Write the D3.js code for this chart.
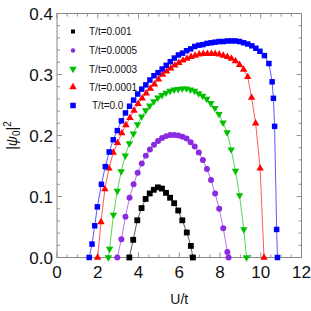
<!DOCTYPE html>
<html>
<head>
<meta charset="utf-8">
<script src="https://cdn.jsdelivr.net/npm/d3@7.9.0/dist/d3.min.js"></script>
<style>
  html, body { margin: 0; padding: 0; background: #fff; }
  svg { display: block; font-family: "Liberation Sans", Arial, sans-serif; }
</style>
</head>
<body>
<svg id="chart" width="311" height="311"></svg>
<script>
// series data: [U/t, |psi0|^2]
const t0001 = [[3.55,0],[3.74,0.029],[3.94,0.061],[4.15,0.081],[4.35,0.096],[4.55,0.105],[4.75,0.111],[4.95,0.115],[5.15,0.113],[5.35,0.106],[5.55,0.098],[5.75,0.089],[5.95,0.077],[6.15,0.061],[6.37,0.041],[6.57,0.019],[6.67,0]];
const t00005 = [[2.96,0],[3.16,0.030],[3.36,0.067],[3.56,0.098],[3.76,0.120],[3.96,0.139],[4.16,0.154],[4.36,0.167],[4.56,0.177],[4.76,0.185],[4.96,0.191],[5.16,0.196],[5.36,0.199],[5.56,0.201],[5.76,0.201],[5.96,0.200],[6.16,0.198],[6.36,0.195],[6.56,0.189],[6.76,0.182],[6.96,0.172],[7.16,0.160],[7.36,0.145],[7.56,0.127],[7.76,0.105],[7.96,0.080],[8.16,0.048],[8.36,0.009],[8.42,0]];
const t00003 = [[2.52,0],[2.58,0.014],[2.77,0.070],[2.96,0.109],[3.15,0.141],[3.35,0.167],[3.55,0.187],[3.75,0.203],[3.95,0.218],[4.15,0.231],[4.35,0.241],[4.55,0.249],[4.75,0.256],[4.95,0.262],[5.15,0.266],[5.35,0.270],[5.55,0.273],[5.75,0.275],[5.95,0.276],[6.15,0.277],[6.35,0.277],[6.55,0.275],[6.75,0.273],[6.95,0.269],[7.15,0.265],[7.35,0.260],[7.55,0.253],[7.75,0.245],[7.95,0.235],[8.15,0.221],[8.35,0.205],[8.55,0.177],[8.76,0.142],[8.96,0.102],[9.17,0.046],[9.3,0]];
const t00001 = [[1.99,0],[2.16,0.058],[2.35,0.112],[2.55,0.146],[2.76,0.172],[2.97,0.188],[3.18,0.204],[3.38,0.217],[3.58,0.229],[3.78,0.241],[3.98,0.252],[4.18,0.261],[4.38,0.269],[4.58,0.277],[4.78,0.284],[4.98,0.292],[5.18,0.300],[5.38,0.305],[5.58,0.310],[5.78,0.315],[5.98,0.319],[6.18,0.323],[6.38,0.326],[6.58,0.329],[6.78,0.331],[6.98,0.333],[7.18,0.334],[7.38,0.334],[7.58,0.334],[7.76,0.334],[7.96,0.333],[8.16,0.331],[8.36,0.329],[8.56,0.326],[8.76,0.322],[8.96,0.316],[9.16,0.308],[9.36,0.296],[9.55,0.262],[9.75,0.220],[9.97,0.146],[10.16,0]];
const t0 = [[1.58,0],[1.72,0.022],[1.85,0.052],[1.98,0.083],[2.18,0.120],[2.37,0.149],[2.56,0.173],[2.76,0.193],[2.96,0.208],[3.16,0.224],[3.36,0.237],[3.56,0.248],[3.76,0.258],[3.96,0.268],[4.16,0.276],[4.36,0.283],[4.56,0.291],[4.76,0.298],[4.96,0.303],[5.16,0.309],[5.36,0.315],[5.56,0.321],[5.76,0.327],[5.96,0.332],[6.16,0.335],[6.36,0.339],[6.56,0.342],[6.76,0.346],[6.96,0.348],[7.16,0.349],[7.36,0.351],[7.56,0.352],[7.76,0.353],[7.96,0.354],[8.16,0.354],[8.36,0.355],[8.56,0.355],[8.76,0.355],[8.96,0.354],[9.16,0.352],[9.36,0.350],[9.56,0.347],[9.76,0.343],[9.96,0.338],[10.18,0.331],[10.4,0.318],[10.56,0.288],[10.62,0.261],[10.68,0.215],[10.78,0.046],[10.82,0]];

const labels = ['T/t=0.001', 'T/t=0.0005', 'T/t=0.0003', 'T/t=0.0001', 'T/t=0.0'];
const colors = ['#000000', '#8a2be2', '#00c000', '#ff0000', '#0000ff'];
const xTicks = [0, 2, 4, 6, 8, 10, 12];
const yTicks = [0.0, 0.1, 0.2, 0.3, 0.4];

const series = [
  { data: t0001, symbol: d3.symbolSquare, size: 34, rotate: 0 },
  { data: t00005, symbol: d3.symbolCircle, size: 28, rotate: 0 },
  { data: t00003, symbol: d3.symbolTriangle, size: 24, rotate: 180 },
  { data: t00001, symbol: d3.symbolTriangle, size: 24, rotate: 0 },
  { data: t0, symbol: d3.symbolSquare, size: 30, rotate: 0 },
];

const width = 311, height = 311;
const margin = { top: 13.5, right: 9.5, bottom: 53.5, left: 57 };
const w = width - margin.left - margin.right;
const h = height - margin.top - margin.bottom;

const svg = d3.select('#chart');
const g = svg.append('g').attr('transform', `translate(${margin.left},${margin.top})`);

const x = d3.scaleLinear().domain([0, 12]).range([0, w]);
const y = d3.scaleLinear().domain([0, 0.4]).range([h, 0]);

const tickColor = '#777';
const xMinor = d3.range(0, 12.01, 0.5);
const yMinor = d3.range(0, 0.401, 0.02);

// minor ticks, all four sides, pointing inward
const ticks = g.append('g').attr('stroke', tickColor).attr('stroke-width', 0.8);
xMinor.forEach(v => {
  const major = Math.abs(v / 2 - Math.round(v / 2)) < 1e-6;
  const len = major ? 5 : 3;
  ticks.append('line').attr('x1', x(v)).attr('x2', x(v)).attr('y1', h).attr('y2', h - len);
  ticks.append('line').attr('x1', x(v)).attr('x2', x(v)).attr('y1', 0).attr('y2', len);
});
yMinor.forEach(v => {
  const major = Math.abs(v * 10 - Math.round(v * 10)) < 1e-6;
  const len = major ? 5 : 3;
  ticks.append('line').attr('x1', 0).attr('x2', len).attr('y1', y(v)).attr('y2', y(v));
  ticks.append('line').attr('x1', w).attr('x2', w - len).attr('y1', y(v)).attr('y2', y(v));
});

g.append('rect')
  .attr('width', w).attr('height', h)
  .attr('fill', 'none').attr('stroke', '#888').attr('stroke-width', 1);

// tick labels
g.selectAll('.xl').data(xTicks).enter().append('text')
  .attr('x', d => x(d)).attr('y', h + 20)
  .attr('text-anchor', 'middle').attr('font-size', 17).attr('fill', '#111')
  .text(d => d);
g.selectAll('.yl').data(yTicks).enter().append('text')
  .attr('x', -4).attr('y', d => y(d) + 6)
  .attr('text-anchor', 'end').attr('font-size', 17).attr('fill', '#111')
  .text(d => d.toFixed(1));

// axis titles
g.append('text')
  .attr('x', w / 2).attr('y', h + 46)
  .attr('text-anchor', 'middle').attr('font-size', 14).attr('fill', '#111')
  .text('U/t');

const yt = svg.append('text')
  .attr('transform', `translate(17,${margin.top + h / 2}) rotate(-90)`)
  .attr('text-anchor', 'middle').attr('font-size', 14).attr('fill', '#111');
yt.append('tspan').text('|');
yt.append('tspan').attr('font-style', 'italic').text('ψ');
yt.append('tspan').attr('font-size', 10).attr('dy', 3).text('0');
yt.append('tspan').attr('dy', -3).text('|');
yt.append('tspan').attr('font-size', 10).attr('dy', -6).text('2');

// series lines and markers
const line = d3.line().x(d => x(d[0])).y(d => y(d[1]));
series.forEach((s, i) => {
  g.append('path')
    .datum(s.data)
    .attr('d', line)
    .attr('fill', 'none')
    .attr('stroke', colors[i])
    .attr('stroke-opacity', 0.65)
    .attr('stroke-width', 1);
  const sym = d3.symbol().type(s.symbol).size(s.size);
  g.append('g').selectAll('path')
    .data(s.data).enter().append('path')
    .attr('d', sym)
    .attr('transform', d => `translate(${x(d[0])},${y(d[1])}) rotate(${s.rotate})`)
    .attr('fill', colors[i]);
});

// legend
const legendY = [31.5, 50.5, 69, 87, 105.5];
const legendSize = [16, 16, 24, 24, 30];
const legend = svg.append('g');
series.forEach((s, i) => {
  const sym = d3.symbol().type(s.symbol).size(legendSize[i]);
  legend.append('path')
    .attr('d', sym)
    .attr('transform', `translate(73,${legendY[i]}) rotate(${s.rotate})`)
    .attr('fill', colors[i]);
  legend.append('text')
    .attr('x', i === 4 ? 92 : 89).attr('y', legendY[i] + 3.5)
    .attr('font-size', 10).attr('fill', '#111')
    .text(labels[i]);
});
</script>
</body>
</html>
